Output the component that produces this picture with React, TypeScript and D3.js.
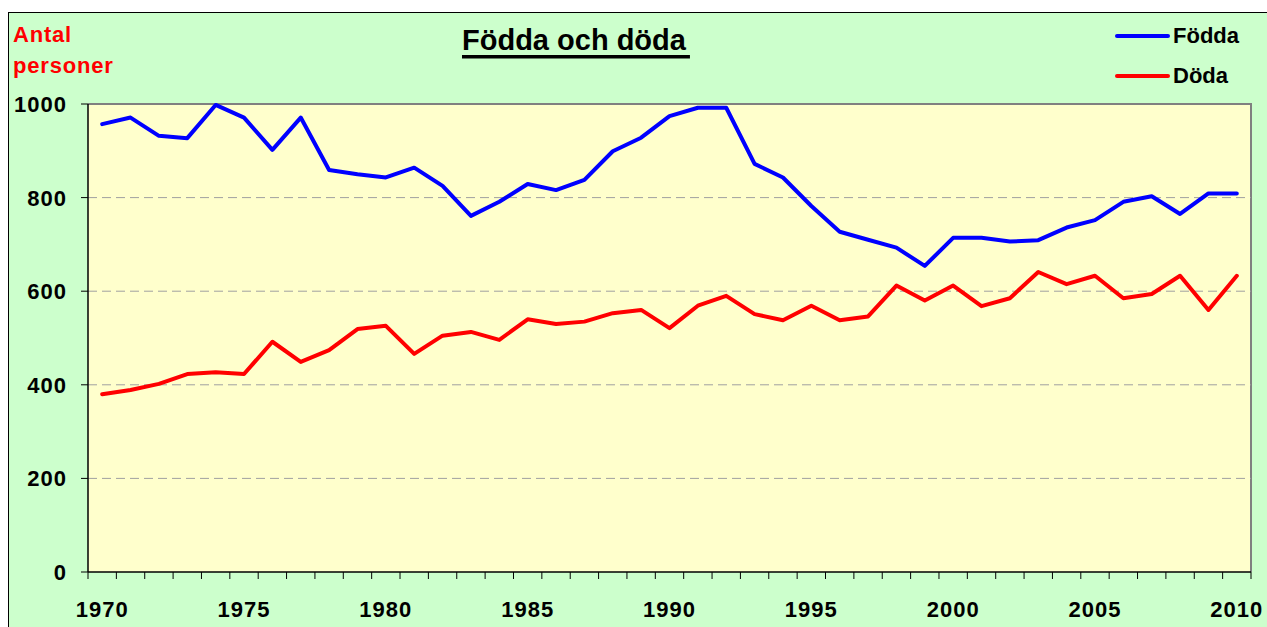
import React, { useEffect, useRef } from "react";
import * as d3 from "d3";

const years: number[] = d3.range(1970, 2011);
const fodda: number[] = [957, 971, 932, 927, 998, 971, 902, 971, 859, 850, 843, 864, 825, 761, 791, 829, 816, 838, 899, 928, 974, 992, 992, 872, 843, 782, 727, 710, 693, 654, 714, 714, 706, 709, 736, 752, 791, 803, 765, 809, 809];
const doda: number[] = [380, 389, 402, 423, 427, 423, 492, 449, 474, 519, 526, 466, 505, 513, 496, 540, 530, 535, 553, 560, 521, 569, 590, 551, 538, 569, 538, 546, 612, 580, 612, 568, 585, 641, 615, 633, 585, 594, 633, 560, 633];
const yTicks: number[] = [0, 200, 400, 600, 800, 1000];
const xLabelYears: number[] = [1970, 1975, 1980, 1985, 1990, 1995, 2000, 2005, 2010];
const seriesNames: string[] = ["Födda", "Döda"];
const seriesColors: string[] = ["#0000FF", "#FF0000"];
const title = "Födda och döda";
const yTitle: string[] = ["Antal", "personer"];

const W = 1267;
const H = 627;
const plot = { left: 88, top: 104, right: 1251, bottom: 572 };
const FONT = "'Liberation Sans', Arial, sans-serif";

export default function App() {
  const ref = useRef<SVGSVGElement | null>(null);

  useEffect(() => {
    const svg = d3.select(ref.current);
    svg.selectAll("*").remove();

    const x = d3.scaleBand<number>().domain(years).range([plot.left, plot.right]).paddingInner(0).paddingOuter(0);
    const cx = (yr: number) => (x(yr) as number) + x.bandwidth() / 2;
    const y = d3.scaleLinear().domain([0, 1000]).range([plot.bottom, plot.top]);

    // outer chart area
    svg.append("rect").attr("x", 8.5).attr("y", 12.5).attr("width", 1400).attr("height", 800)
      .attr("fill", "#CCFFCC").attr("stroke", "#000").attr("stroke-width", 1);

    // plot area
    svg.append("rect").attr("x", plot.left).attr("y", plot.top)
      .attr("width", plot.right - plot.left).attr("height", plot.bottom - plot.top)
      .attr("fill", "#FFFFCC");
    svg.append("path")
      .attr("d", `M${plot.left},${plot.top}H${plot.right}V${plot.bottom}`)
      .attr("fill", "none").attr("stroke", "#808080").attr("stroke-width", 2);

    // gridlines
    svg.append("g").selectAll("line").data(yTicks.filter(t => t > 0 && t < 1000)).join("line")
      .attr("x1", plot.left).attr("x2", plot.right)
      .attr("y1", d => y(d)).attr("y2", d => y(d))
      .attr("stroke", "#A0A0A0").attr("stroke-width", 1).attr("stroke-dasharray", "9,5");

    // axes lines
    svg.append("line").attr("x1", plot.left).attr("x2", plot.left).attr("y1", plot.top).attr("y2", plot.bottom)
      .attr("stroke", "#000").attr("stroke-width", 1.5);
    svg.append("line").attr("x1", plot.left).attr("x2", plot.right).attr("y1", plot.bottom).attr("y2", plot.bottom)
      .attr("stroke", "#000").attr("stroke-width", 1.5);

    // y ticks
    svg.append("g").selectAll("line").data(yTicks).join("line")
      .attr("x1", plot.left - 7).attr("x2", plot.left)
      .attr("y1", d => y(d)).attr("y2", d => y(d))
      .attr("stroke", "#000").attr("stroke-width", 1);
    svg.append("g").selectAll("text").data(yTicks).join("text")
      .attr("x", 67).attr("y", d => y(d) + 8)
      .attr("text-anchor", "end")
      .attr("font-family", FONT).attr("font-weight", "bold").attr("font-size", 22)
      .attr("letter-spacing", 1)
      .attr("fill", "#000")
      .text(d => String(d));

    // x ticks (category boundaries)
    const boundaries = years.map(yr => x(yr) as number).concat([plot.right]);
    svg.append("g").selectAll("line").data(boundaries).join("line")
      .attr("x1", d => d).attr("x2", d => d)
      .attr("y1", plot.bottom).attr("y2", plot.bottom + 7)
      .attr("stroke", "#000").attr("stroke-width", 1);
    svg.append("g").selectAll("text").data(xLabelYears).join("text")
      .attr("x", d => cx(d)).attr("y", 617)
      .attr("text-anchor", "middle")
      .attr("font-family", FONT).attr("font-weight", "bold").attr("font-size", 22)
      .attr("letter-spacing", 1)
      .attr("fill", "#000")
      .text(d => String(d));

    // lines
    const line = d3.line<number>().x((_, i) => cx(years[i])).y(d => y(d)).curve(d3.curveLinear);
    [fodda, doda].forEach((s, i) => {
      svg.append("path").attr("d", line(s) as string)
        .attr("fill", "none").attr("stroke", seriesColors[i]).attr("stroke-width", 4)
        .attr("stroke-linejoin", "round").attr("stroke-linecap", "round");
    });

    // title
    const t = svg.append("text").attr("x", 462).attr("y", 50)
      .attr("font-family", FONT).attr("font-weight", "bold").attr("font-size", 29)
      .attr("fill", "#000").text(title);
    const tw = (t.node() as SVGTextElement).getComputedTextLength();
    svg.append("rect").attr("x", 462).attr("y", 55).attr("width", tw + 4).attr("height", 3.5).attr("fill", "#000");

    // y title
    yTitle.forEach((s, i) => {
      svg.append("text").attr("x", 13).attr("y", 42 + i * 30.5)
        .attr("font-family", FONT).attr("font-weight", "bold").attr("font-size", 22)
        .attr("letter-spacing", 0.8)
        .attr("fill", "#FF0000").text(s);
    });

    // legend
    seriesNames.forEach((s, i) => {
      const ly = 36 + i * 40;
      svg.append("line").attr("x1", 1117).attr("x2", 1168).attr("y1", ly).attr("y2", ly)
        .attr("stroke", seriesColors[i]).attr("stroke-width", 4).attr("stroke-linecap", "round");
      svg.append("text").attr("x", 1173).attr("y", ly + 7)
        .attr("font-family", FONT).attr("font-weight", "bold").attr("font-size", 22)
        .attr("fill", "#000").text(s);
    });
  }, []);

  return (
    <svg
      ref={ref}
      width={W}
      height={H}
      style={{ position: "absolute", left: 0, top: 0, display: "block" }}
    />
  );
}
